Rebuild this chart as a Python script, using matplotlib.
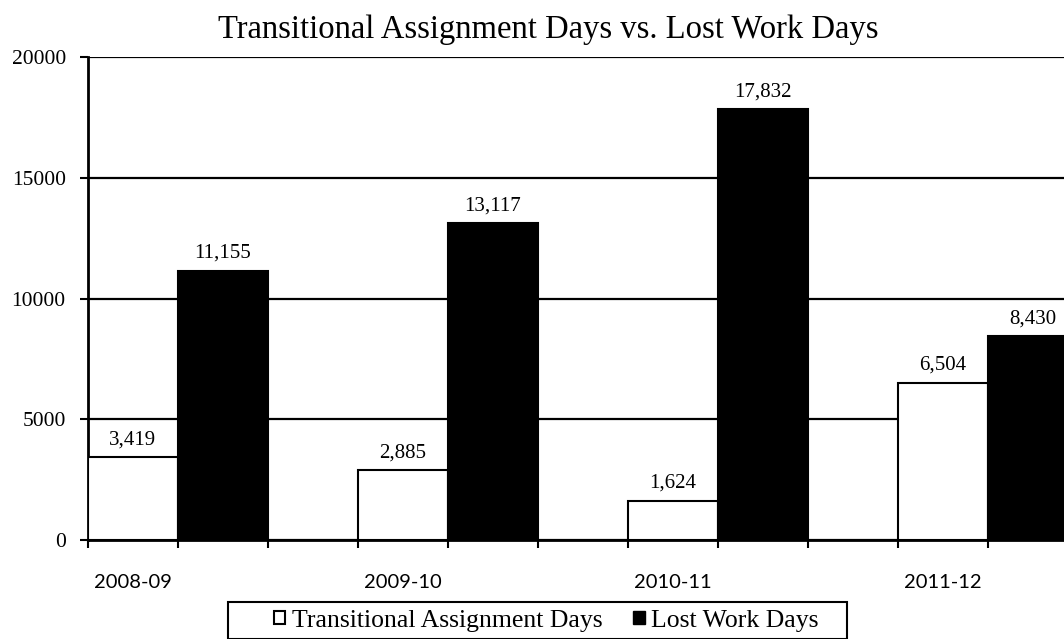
import matplotlib.pyplot as plt
import matplotlib.patches as mpatches

# --- DATA ---
years = ['2008-09', '2009-10', '2010-11', '2011-12']
transitional_days = [3419, 2885, 1624, 6504]
lost_work_days = [11155, 13117, 17832, 8430]

plt.rcParams['font.family'] = ['Liberation Serif', 'DejaVu Serif']

fig = plt.figure(figsize=(10.64, 6.39), dpi=100)
W, H = 1064, 639
# plot runs past the right edge of the image, as in the reference
ax = fig.add_axes([88 / W, (H - 540) / H, 1080 / W, 483 / H])

x_white = [i * 3 + 0.5 for i in range(len(years))]
x_black = [i * 3 + 1.5 for i in range(len(years))]

ax.bar(x_white, transitional_days, width=1.0, color='white',
       edgecolor='black', linewidth=1.5, zorder=3)
ax.bar(x_black, lost_work_days, width=1.0, color='black',
       edgecolor='black', linewidth=1.5, zorder=3)

for xw, v in zip(x_white, transitional_days):
    ax.text(xw, v + 330, f'{v:,}', ha='center', va='bottom', fontsize=15)
for xb, v in zip(x_black, lost_work_days):
    ax.text(xb, v + 330, f'{v:,}', ha='center', va='bottom', fontsize=15)

ax.set_xlim(0, 12)
ax.set_ylim(0, 20000)
ax.set_yticks([0, 5000, 10000, 15000, 20000])
ax.set_yticklabels(['0', '5000', '10000', '15000', '20000'], fontsize=15.5)
ax.tick_params(axis='y', direction='out', length=6, width=1.5, pad=10)

ax.set_xticks(range(0, 13))
ax.set_xticklabels([])
ax.tick_params(axis='x', direction='out', length=6, width=1.5)

for xw, yr in zip(x_white, years):
    ax.text(xw, -1750, yr, ha='center', va='center', fontsize=14.5,
            family=['Lato', 'DejaVu Sans'])

ax.yaxis.grid(True, color='black', linewidth=1.6, zorder=0)
ax.set_axisbelow(True)
for side in ['top', 'right']:
    ax.spines[side].set_visible(False)
ax.spines['left'].set_linewidth(2)
ax.spines['bottom'].set_linewidth(2)

fig.text(548 / W, 1 - 30 / H, 'Transitional Assignment Days vs. Lost Work Days',
         ha='center', va='center', fontsize=23.5)

# legend box drawn by hand so its width matches the reference
frame = mpatches.Rectangle((228 / W, 0), (847 - 228) / W, (639 - 602) / H,
                           transform=fig.transFigure, facecolor='white',
                           edgecolor='black', linewidth=1.5)
fig.patches.append(frame)

handles = [
    mpatches.Patch(facecolor='white', edgecolor='black', linewidth=1.5,
                   label='Transitional Assignment Days'),
    mpatches.Patch(facecolor='black', edgecolor='black',
                   label='Lost Work Days'),
]
leg = fig.legend(handles=handles, loc='center', ncol=2,
                 bbox_to_anchor=(546 / W, 1 - 621 / H), fontsize=18.5,
                 frameon=False, handlelength=0.45, handleheight=0.4,
                 handletextpad=0.25, columnspacing=1.2, borderaxespad=0)

fig.savefig('out.png', dpi=100)
plt.close(fig)
